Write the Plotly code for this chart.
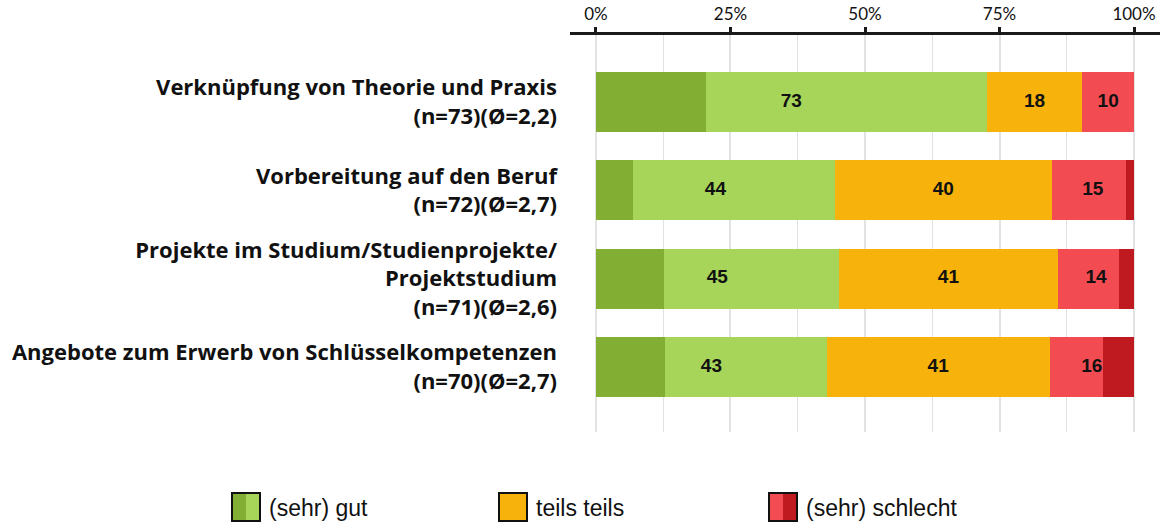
import plotly.graph_objects as go

categories = [
    "Verknüpfung von Theorie und Praxis<br>(n=73)(Ø=2,2)",
    "Vorbereitung auf den Beruf<br>(n=72)(Ø=2,7)",
    "Projekte im Studium/Studienprojekte/<br>Projektstudium<br>(n=71)(Ø=2,6)",
    "Angebote zum Erwerb von Schlüsselkompetenzen<br>(n=70)(Ø=2,7)",
]
sehr_gut = [20.5, 6.9, 12.7, 12.9]
gut = [52.1, 37.5, 32.4, 30.0]
teils = [17.8, 40.3, 40.8, 41.4]
schlecht = [9.6, 13.9, 11.3, 10.0]
sehr_schlecht = [0.0, 1.4, 2.8, 5.7]

tick_vals = [0, 25, 50, 75, 100]
tick_text = ["0%", "25%", "50%", "75%", "100%"]
minor_vals = [12.5, 37.5, 62.5, 87.5]

legend_labels = ["(sehr) gut", "teils teils", "(sehr) schlecht"]

C_DGREEN = "#82AF33"
C_LGREEN = "#A7D55A"
C_ORANGE = "#F7B20C"
C_LRED = "#F24C52"
C_DRED = "#BF1A20"

fig = go.Figure()
for vals, col in [(sehr_gut, C_DGREEN), (gut, C_LGREEN), (teils, C_ORANGE),
                  (schlecht, C_LRED), (sehr_schlecht, C_DRED)]:
    fig.add_trace(go.Bar(x=vals, y=categories, orientation="h",
                         marker=dict(color=col, line=dict(width=0)),
                         width=0.68, showlegend=False, hoverinfo="skip"))

# group labels centered on combined groups
green_tot = [a + b for a, b in zip(sehr_gut, gut)]
red_tot = [a + b for a, b in zip(schlecht, sehr_schlecht)]
xs, ys, ts = [], [], []
for i, c in enumerate(categories):
    g, t, r = green_tot[i], teils[i], red_tot[i]
    xs += [g / 2, g + t / 2, g + t + r / 2]
    ys += [c, c, c]
    ts += [str(round(g)), str(round(t)), str(round(r))]
fig.add_trace(go.Scatter(x=xs, y=ys, mode="text", text=ts,
                         textfont=dict(family="Liberation Sans Narrow, Liberation Sans, Arial",
                                       size=19, color="#111111", weight="bold"),
                         showlegend=False, hoverinfo="skip"))

L, R, T, B = 570, 1160, 35, 432
W, H = 1173, 525


def px(x):
    return (x - L) / (R - L)


def py(y):
    return (B - y) / (B - T)


shapes = []
annotations = []
legend_items = [
    (232, [C_DGREEN, C_LGREEN], legend_labels[0]),
    (499, [C_ORANGE], legend_labels[1]),
    (769, [C_LRED, C_DRED], legend_labels[2]),
]
sy0, sy1 = 493, 521
for x0, cols, lab in legend_items:
    w = 28
    n = len(cols)
    for k, col in enumerate(cols):
        shapes.append(dict(type="rect", xref="paper", yref="paper",
                           x0=px(x0 + k * w / n), x1=px(x0 + (k + 1) * w / n),
                           y0=py(sy1), y1=py(sy0), fillcolor=col, line=dict(width=0)))
    shapes.append(dict(type="rect", xref="paper", yref="paper",
                       x0=px(x0), x1=px(x0 + w), y0=py(sy1), y1=py(sy0),
                       fillcolor="rgba(0,0,0,0)", line=dict(color="#111111", width=2)))
    annotations.append(dict(xref="paper", yref="paper", x=px(x0 + w + 7), y=py(508),
                            xanchor="left", yanchor="middle", showarrow=False, text=lab,
                            font=dict(family="Liberation Sans, Arial", size=23, color="#111111")))

fig.update_layout(
    width=W, height=H,
    barmode="stack",
    plot_bgcolor="white", paper_bgcolor="white",
    margin=dict(l=L, r=W - R, t=T, b=H - B, autoexpand=False),
    shapes=shapes, annotations=annotations,
    showlegend=False,
    xaxis=dict(side="top", range=[-4.83, 104.83], tickvals=tick_vals, ticktext=tick_text,
               showgrid=True, gridcolor="#E2E2E2", gridwidth=2,
               minor=dict(tickvals=minor_vals, showgrid=True, gridcolor="#E2E2E2", gridwidth=1,
                          ticks=""),
               showline=True, linecolor="#1A1A1A", linewidth=3,
               ticks="outside", ticklen=5, tickwidth=3, tickcolor="#1A1A1A",
               tickfont=dict(family="Lato, Open Sans", size=17, color="#111111"),
               zeroline=False, fixedrange=True, automargin=False),
    yaxis=dict(range=[3.736, -0.7585], showgrid=False, showline=False, ticks="",
               ticklabelstandoff=12,
               tickfont=dict(family="Open Sans", size=22, color="#111111", weight="bold"),
               fixedrange=True, automargin=False),
)

fig.write_html("out.html", config={"displayModeBar": False},
               post_script="document.body.style.margin='0';document.body.style.overflow='hidden';")
